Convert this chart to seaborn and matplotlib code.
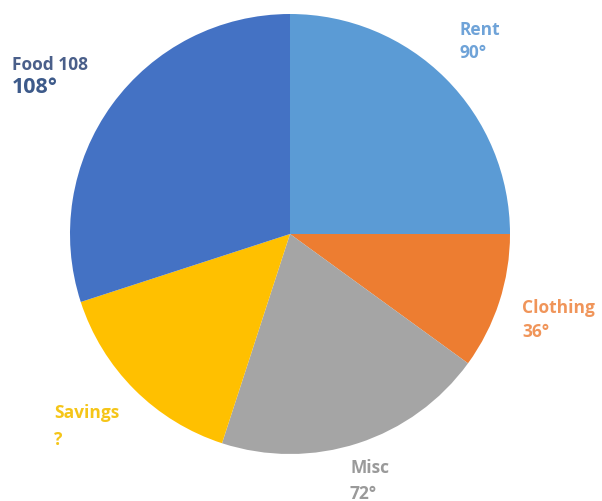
import matplotlib
matplotlib.use("Agg")
import matplotlib.pyplot as plt
import seaborn as sns

categories = ["Rent", "Clothing", "Misc", "Savings", "Food"]
degrees = [90, 36, 72, 54, 108]
name_labels = ["Rent", "Clothing", "Misc", "Savings", "Food 108"]
value_labels = ["90°", "36°", "72°", "?", "108°"]
slice_colors = ["#5B9BD5", "#ED7D31", "#A5A5A5", "#FFC000", "#4472C4"]
label_colors = ["#6FA3D8", "#F0955A", "#9A9A9A", "#F5C518", "#4A5F8A"]

sns.set_theme(style="white")
plt.rcParams['font.family'] = ['Open Sans', 'DejaVu Sans']

W, H = 602, 502
fig = plt.figure(figsize=(W / 100, H / 100), dpi=100)
cx, cy, r = 290, 235, 220
ax = fig.add_axes([(cx - r) / W, (H - cy - r) / H, 2 * r / W, 2 * r / H])
ax.pie(degrees, colors=slice_colors, startangle=90, counterclock=False,
       wedgeprops=dict(linewidth=0), radius=1)
ax.set_xlim(-1, 1)
ax.set_ylim(-1, 1)
ax.set_aspect("equal")
ax.axis("off")

# label anchors: (left x, baseline of name line, baseline of value line) in pixels
pos = {"Rent": (459, 35, 58), "Clothing": (522, 313, 337), "Misc": (350, 473, 499),
       "Savings": (54, 418, 445), "Food": (12, 70, 93)}

for cat, name, val, col in zip(categories, name_labels, value_labels, label_colors):
    px, b1, b2 = pos[cat]
    fig.text(px / W, 1 - b1 / H, name, color=col, fontsize=12.5, fontweight="bold",
             ha="left", va="baseline")
    if cat == "Food":
        fig.text(px / W, 1 - b2 / H, val, color="#3D5A8A", fontsize=15.5,
                 fontweight="bold", ha="left", va="baseline")
    else:
        fig.text(px / W, 1 - b2 / H, val, color=col, fontsize=12.5,
                 fontweight="bold", ha="left", va="baseline")

fig.savefig("out.png", dpi=100, facecolor="white")
